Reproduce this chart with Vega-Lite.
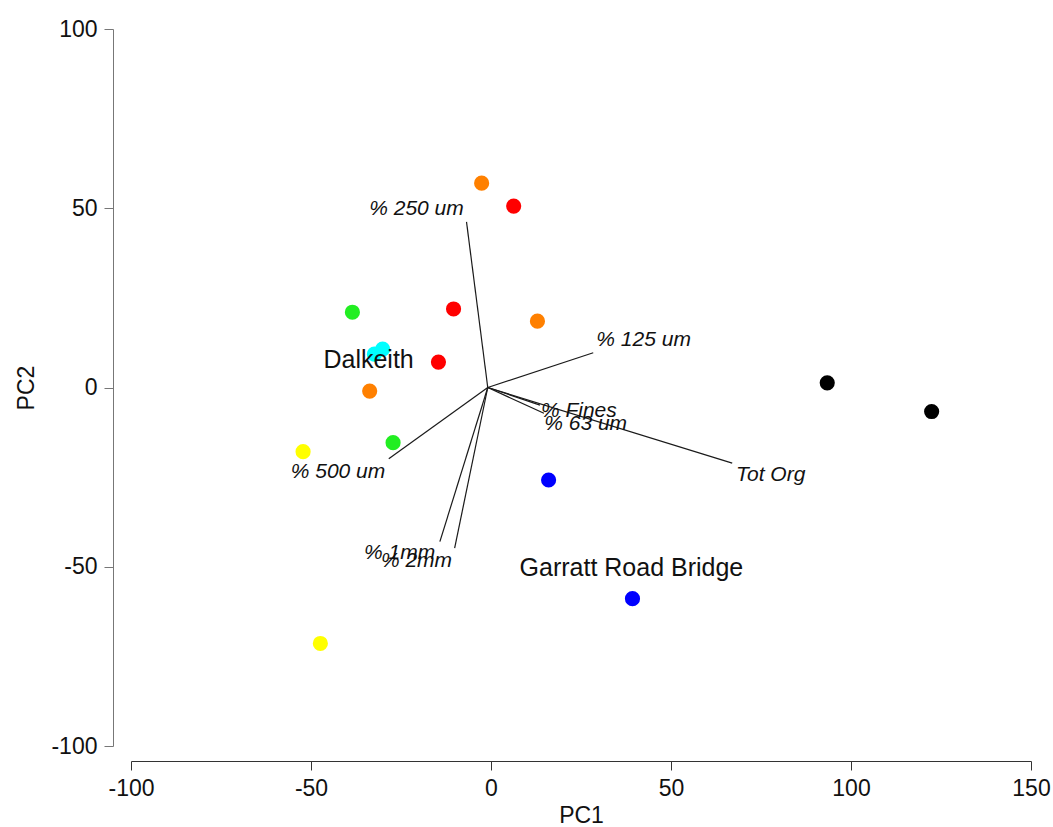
{
  "$schema": "https://vega.github.io/schema/vega-lite/v6.json",
  "autosize": {"type": "none"},
  "padding": {"left": 131, "top": 29, "right": 22, "bottom": 81},
  "width": 900,
  "height": 717,
  "background": "white",
  "config": {
    "view": {"stroke": null},
    "font": "Liberation Sans",
    "axis": {
      "grid": false,
      "labelFont": "Liberation Sans",
      "titleFont": "Liberation Sans",
      "labelFontSize": 23,
      "titleFontSize": 23,
      "titleFontWeight": "normal",
      "labelColor": "#111111",
      "titleColor": "#111111",
      "tickSize": 9,
      "labelPadding": 7,
      "labelFlush": false,
      "labelOverlap": false,
      "labelExpr": "replace(datum.label, '−', '-')"
    }
  },
  "datasets": {
    "scores": [
      {"group": "orange", "pc1": -2.6, "pc2": 57.0},
      {"group": "red", "pc1": 6.3, "pc2": 50.6},
      {"group": "green", "pc1": -38.5, "pc2": 21.0},
      {"group": "red", "pc1": -10.4, "pc2": 21.9},
      {"group": "orange", "pc1": 12.9, "pc2": 18.5},
      {"group": "cyan", "pc1": -32.4, "pc2": 9.3},
      {"group": "cyan", "pc1": -30.1, "pc2": 10.7},
      {"group": "red", "pc1": -14.6, "pc2": 7.1},
      {"group": "orange", "pc1": -33.7, "pc2": -1.0},
      {"group": "green", "pc1": -27.2, "pc2": -15.4},
      {"group": "yellow", "pc1": -52.2, "pc2": -17.9},
      {"group": "blue", "pc1": 16.0, "pc2": -25.8},
      {"group": "blue", "pc1": 39.3, "pc2": -58.9},
      {"group": "yellow", "pc1": -47.4, "pc2": -71.4},
      {"group": "black", "pc1": 93.4, "pc2": 1.3},
      {"group": "black", "pc1": 122.4, "pc2": -6.7}
    ],
    "loadings": [
      {"variable": "% 250 um", "x0": -0.9, "y0": 0, "x1": -6.8, "y1": 46.2, "lx": -20.7, "ly": 49.7},
      {"variable": "% 125 um", "x0": -0.9, "y0": 0, "x1": 28.4, "y1": 9.7, "lx": 42.4, "ly": 13.2},
      {"variable": "% Fines", "x0": -0.9, "y0": 0, "x1": 13.6, "y1": -4.9, "lx": 24.4, "ly": -6.5},
      {"variable": "% 63 um", "x0": -0.9, "y0": 0, "x1": 14.7, "y1": -7.2, "lx": 26.3, "ly": -10.2},
      {"variable": "Tot Org", "x0": -0.9, "y0": 0, "x1": 67.0, "y1": -21.1, "lx": 77.7, "ly": -24.4},
      {"variable": "% 500 um", "x0": -0.9, "y0": 0, "x1": -28.4, "y1": -19.9, "lx": -42.5, "ly": -23.5},
      {"variable": "% 1mm", "x0": -0.9, "y0": 0, "x1": -14.2, "y1": -43.0, "lx": -25.4, "ly": -46.1},
      {"variable": "% 2mm", "x0": -0.9, "y0": 0, "x1": -10.1, "y1": -44.8, "lx": -20.7, "ly": -48.5}
    ],
    "sites": [
      {"site": "Dalkeith", "sx": -34.0, "sy": 7.7},
      {"site": "Garratt Road Bridge", "sx": 39.0, "sy": -50.4}
    ]
  },
  "layer": [
    {
      "data": {"name": "loadings"},
      "mark": {"type": "rule", "color": "#1a1a1a", "strokeWidth": 1.2},
      "encoding": {
        "x": {"field": "x0", "type": "quantitative", "scale": {"domain": [-100, 150], "nice": false, "zero": false},
              "axis": {"title": "PC1", "values": [-100, -50, 0, 50, 100, 150], "offset": 15, "domainColor": "#333333", "tickColor": "#333333", "titlePadding": 4}},
        "y": {"field": "y0", "type": "quantitative", "scale": {"domain": [-100, 100], "nice": false, "zero": false},
              "axis": {"title": "PC2", "values": [-100, -50, 0, 50, 100], "offset": 18, "domainColor": "#777777", "tickColor": "#777777", "titlePadding": 12}},
        "x2": {"field": "x1"},
        "y2": {"field": "y1"}
      }
    },
    {
      "data": {"name": "scores"},
      "mark": {"type": "point", "filled": true, "opacity": 1, "size": 230},
      "encoding": {
        "x": {"field": "pc1", "type": "quantitative"},
        "y": {"field": "pc2", "type": "quantitative"},
        "color": {"field": "group", "type": "nominal", "legend": null,
                  "scale": {"domain": ["orange", "red", "green", "cyan", "yellow", "blue", "black"],
                            "range": ["#FF8000", "#FF0000", "#22EE22", "#00FFFF", "#FFFF00", "#0000FF", "#000000"]}}
      }
    },
    {
      "data": {"name": "loadings"},
      "mark": {"type": "text", "fontStyle": "italic", "fontSize": 21, "font": "Liberation Sans", "color": "#111111", "align": "center", "baseline": "middle"},
      "encoding": {
        "x": {"field": "lx", "type": "quantitative"},
        "y": {"field": "ly", "type": "quantitative"},
        "text": {"field": "variable"}
      }
    },
    {
      "data": {"name": "sites"},
      "mark": {"type": "text", "fontSize": 25, "font": "Liberation Sans", "color": "#111111", "align": "center", "baseline": "middle"},
      "encoding": {
        "x": {"field": "sx", "type": "quantitative"},
        "y": {"field": "sy", "type": "quantitative"},
        "text": {"field": "site"}
      }
    }
  ]
}
